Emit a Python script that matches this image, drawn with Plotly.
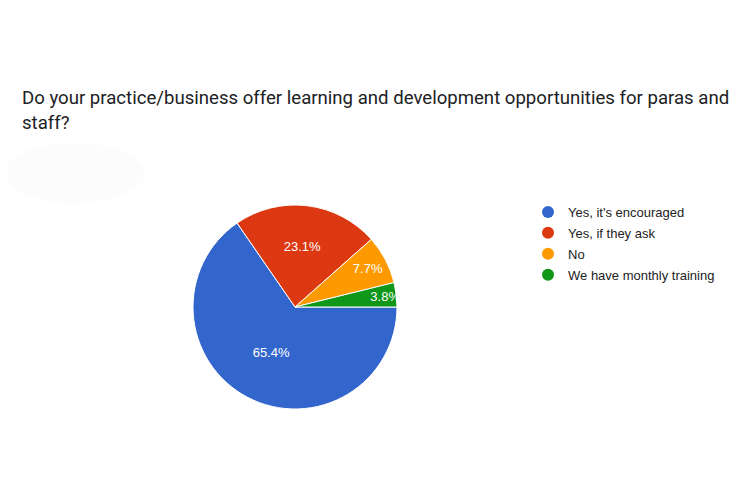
import plotly.graph_objects as go

categories = ["Yes, it's encouraged", "Yes, if they ask", "No", "We have monthly training"]
responses = [17, 6, 2, 1]
colors = ["#3366cc", "#dc3912", "#ff9900", "#109618"]

W, H = 750, 500
OFF = 8  # page body margin
cx, cy, r = 295 - OFF, 307 - OFF, 102


def px(x):
    return (x - OFF) / W


def py(y):
    return 1 - (y - OFF) / H


fig = go.Figure()
fig.add_trace(go.Pie(
    labels=categories, values=responses, sort=False, direction="clockwise", rotation=90,
    marker=dict(colors=colors, line=dict(color="white", width=1)),
    textinfo="percent", texttemplate="%{percent:.1%}", textposition="inside",
    insidetextorientation="horizontal",
    textfont=dict(family="Liberation Sans, Arial", size=13, color="white"),
    domain=dict(x=[(cx - r) / W, (cx + r) / W], y=[1 - (cy + r) / H, 1 - (cy - r) / H]),
    showlegend=False, hoverinfo="label+percent",
))
for i, (name, col) in enumerate(zip(categories, colors)):
    fig.add_trace(go.Scatter(x=[None], y=[None], mode="markers", name=name,
                             legendgroup=f"g{i}",
                             marker=dict(color=col, size=12, symbol="circle")))

fig.update_layout(
    width=W, height=H, margin=dict(l=0, r=0, t=0, b=0),
    paper_bgcolor="white", plot_bgcolor="white",
    uniformtext=dict(minsize=13, mode="show"),
    xaxis=dict(visible=False), yaxis=dict(visible=False),
    legend=dict(x=(528 - OFF) / W, y=1 - (197 - OFF) / H, xanchor="left", yanchor="top",
                font=dict(family="Liberation Sans, Arial", size=13, color="#222222"),
                itemsizing="constant", traceorder="grouped", tracegroupgap=1,
                bgcolor="rgba(0,0,0,0)"),
    shapes=[dict(type="circle", xref="paper", yref="paper",
                 x0=px(4), x1=px(145), y0=py(203), y1=py(143),
                 fillcolor="#fcfcfc", line=dict(width=0), layer="below")],
    annotations=[
        dict(text="Do your practice/business offer learning and development opportunities for paras and",
             x=px(20), y=py(98), xref="paper", yref="paper", xanchor="left", yanchor="middle",
             showarrow=False, font=dict(family="Roboto", size=18.6, color="#202124")),
        dict(text="staff?", x=px(20), y=py(123), xref="paper", yref="paper",
             xanchor="left", yanchor="middle", showarrow=False,
             font=dict(family="Roboto", size=18.6, color="#202124")),
    ],
)
fig.write_html("out.html")
